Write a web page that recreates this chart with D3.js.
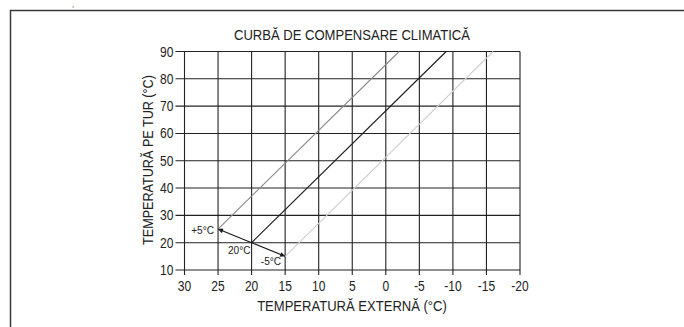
<!DOCTYPE html>
<html><head><meta charset="utf-8">
<script src="https://cdn.jsdelivr.net/npm/d3@7"></script>
<style>
body{margin:0;background:#fff;}
svg text{font-family:"Liberation Sans",Arial,sans-serif;fill:#222;}
</style></head><body>
<svg id="c" width="684" height="327"></svg>
<script>
const title = "CURBĂ DE COMPENSARE CLIMATICĂ";
const xTitle = "TEMPERATURĂ EXTERNĂ (°C)";
const yTitle = "TEMPERATURĂ PE TUR (°C)";
const xTicks = [30,25,20,15,10,5,0,-5,-10,-15,-20];
const yTicks = [10,20,30,40,50,60,70,80,90];
// curves: [outside temp, flow temp] endpoints
const curveLabels = ["+5°C","20°C","-5°C"];
const curveStart = [[25,25],[20,20],[15,15]];
const curveEnd = [[-2,90],[-9,90],[-16,90]];
const curveColors = ["#8a8a8a","#1a1a1a","#cfcfcf"];

const svg = d3.select("#c");
const x = d3.scaleLinear().domain([30,-20]).range([184.5,520]);
const y = d3.scaleLinear().domain([10,90]).range([270,51.5]);

// condensed text helper
function ctext(px, py, str, size, anchor, sx, rot) {
  return svg.append("text")
    .attr("transform", `translate(${px},${py})` + (rot ? ` rotate(${rot})` : "") + ` scale(${sx},1)`)
    .attr("text-anchor", anchor).attr("font-size", size).text(str);
}

// outer frame
svg.append("path").attr("d","M10.5,340 V10.5 H700").attr("fill","none").attr("stroke","#3a3a3a").attr("stroke-width",1.5);
svg.append("text").attr("x",72).attr("y",7).attr("font-size",7.5).text(",");

// grid
const g = svg.append("g");
g.selectAll("line.v").data(xTicks).join("line")
  .attr("x1",d=>x(d)).attr("x2",d=>x(d)).attr("y1",y(90)).attr("y2",y(10)+5)
  .attr("stroke","#222").attr("stroke-width",1.1);
g.selectAll("line.h").data(yTicks).join("line")
  .attr("y1",d=>y(d)).attr("y2",d=>y(d)).attr("x1",x(30)-9).attr("x2",x(-20))
  .attr("stroke","#222").attr("stroke-width",1.1);

// tick labels
xTicks.forEach(d=>ctext(x(d), y(10)+21, d, 14, "middle", 0.86));
yTicks.forEach(d=>ctext(x(30)-11, y(d)+5, d, 14, "end", 0.86));

// titles
ctext(352, 40, title, 15, "middle", 0.87);
ctext(352, 311, xTitle, 15, "middle", 0.87);
ctext(153, 160, yTitle, 14.5, "middle", 0.87, -90);

// curves
curveStart.forEach((s,i)=>{
  svg.append("line").attr("x1",x(s[0])).attr("y1",y(s[1])).attr("x2",x(curveEnd[i][0])).attr("y2",y(curveEnd[i][1]))
    .attr("stroke",curveColors[i]).attr("stroke-width",1.1);
});

// arrows from 20°C point to +5 and -5 starts
svg.append("defs").append("marker").attr("id","ah").attr("viewBox","0 0 10 10").attr("refX",10).attr("refY",5)
  .attr("markerWidth",7).attr("markerHeight",5).attr("orient","auto").attr("markerUnits","userSpaceOnUse")
  .append("path").attr("d","M0,0 L10,5 L0,10 z").attr("fill","#1a1a1a");
[0,2].forEach(i=>{
  svg.append("line").attr("x1",x(curveStart[1][0])).attr("y1",y(curveStart[1][1]))
    .attr("x2",x(curveStart[i][0])).attr("y2",y(curveStart[i][1]))
    .attr("stroke","#1a1a1a").attr("stroke-width",1.1).attr("marker-end","url(#ah)");
});

// curve labels
ctext(x(curveStart[0][0])-4, y(curveStart[0][1])+4.5, curveLabels[0], 11.5, "end", 0.88);
ctext(x(curveStart[1][0])-1, y(curveStart[1][1])+11, curveLabels[1], 11.5, "end", 0.88);
ctext(x(curveStart[2][0])-4, y(curveStart[2][1])+8.5, curveLabels[2], 11.5, "end", 0.88);
</script></body></html>
